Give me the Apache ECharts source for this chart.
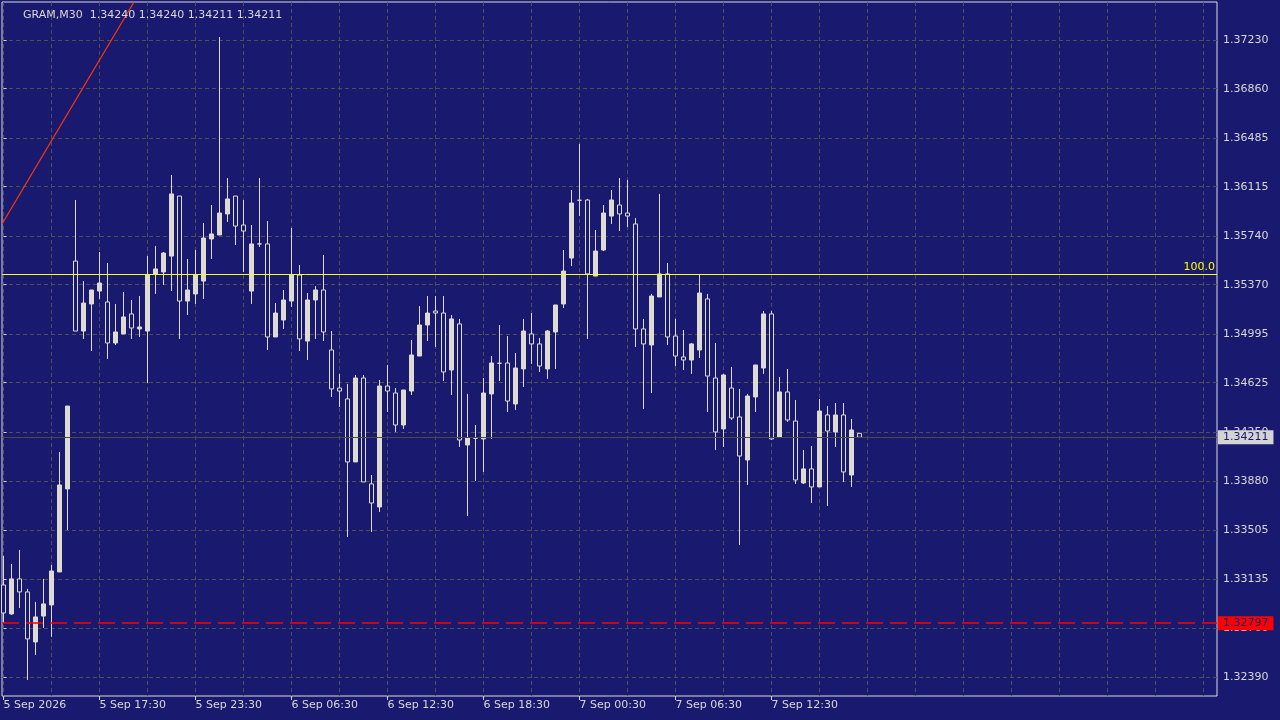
<!DOCTYPE html>
<html>
<head>
<meta charset="utf-8">
<title>GRAM,M30</title>
<script src="https://cdn.jsdelivr.net/npm/echarts@6.0.0/dist/echarts.min.js"></script>
<style>
  html, body { margin: 0; padding: 0; background: #191970; }
  #main { width: 1280px; height: 720px; }
</style>
</head>
<body>
<div id="main"></div>
<script>
/* 标题 */
var titleText = 'GRAM,M30  1.34240 1.34240 1.34211 1.34211';

/* K线数据 (M30, 从 5 Sep 11:30 开始) */
var opens = [
  1.33088, 1.32868, 1.33134, 1.33035, 1.32655, 1.32852, 1.32936, 1.33187, 1.33818, 1.35550,
  1.35018, 1.35224, 1.35322, 1.35239, 1.34927, 1.34996, 1.35148, 1.35034, 1.35018, 1.35452,
  1.35467, 1.35588, 1.36044, 1.35246, 1.35300, 1.35398, 1.35718, 1.35748, 1.35908, 1.36044,
  1.35824, 1.35322, 1.35680, 1.35680, 1.34973, 1.35102, 1.35246, 1.35444, 1.34942, 1.35254,
  1.35330, 1.34874, 1.34585, 1.34502, 1.34023, 1.34661, 1.33856, 1.33681, 1.34600, 1.34547,
  1.34304, 1.34562, 1.34828, 1.35064, 1.35170, 1.35155, 1.34722, 1.35072, 1.34152, 1.34203,
  1.34198, 1.34540, 1.34773, 1.34775, 1.34464, 1.34730, 1.34996, 1.34920, 1.34730, 1.35011,
  1.35224, 1.35573, 1.36012, 1.36014, 1.35436, 1.35634, 1.35892, 1.35976, 1.35915, 1.35832,
  1.35034, 1.34912, 1.35277, 1.35452, 1.34980, 1.34821, 1.34798, 1.34874, 1.35262, 1.34661,
  1.34274, 1.34585, 1.34365, 1.34038, 1.34517, 1.34737, 1.35148, 1.34213, 1.34555, 1.34334,
  1.33863, 1.33970, 1.33833, 1.34380, 1.34251, 1.34380, 1.33924, 1.34240
];
var closes = [
  1.32875, 1.33134, 1.33035, 1.32678, 1.32845, 1.32944, 1.33194, 1.33848, 1.34448, 1.35018,
  1.35231, 1.35330, 1.35383, 1.34927, 1.35011, 1.35125, 1.35041, 1.35049, 1.35444, 1.35490,
  1.35611, 1.36060, 1.35246, 1.35330, 1.35444, 1.35725, 1.35756, 1.35915, 1.36022, 1.35816,
  1.35778, 1.35680, 1.35680, 1.34973, 1.35155, 1.35254, 1.35444, 1.34958, 1.35254, 1.35330,
  1.35011, 1.34578, 1.34562, 1.34023, 1.34661, 1.33871, 1.33711, 1.34600, 1.34562, 1.34304,
  1.34570, 1.34836, 1.35064, 1.35155, 1.35155, 1.34707, 1.35110, 1.34190, 1.34205, 1.34203,
  1.34547, 1.34775, 1.34773, 1.34486, 1.34737, 1.35018, 1.34920, 1.34752, 1.35018, 1.35216,
  1.35474, 1.35991, 1.36012, 1.35452, 1.35626, 1.35915, 1.36014, 1.35908, 1.35892, 1.35034,
  1.34920, 1.35284, 1.35452, 1.34973, 1.34828, 1.34798, 1.34920, 1.35307, 1.34676, 1.34251,
  1.34684, 1.34357, 1.34068, 1.34524, 1.34760, 1.35148, 1.34198, 1.34555, 1.34342, 1.33886,
  1.33970, 1.33833, 1.34410, 1.34258, 1.34380, 1.33947, 1.34266, 1.34211
];
var lows = [
  1.32799, 1.32860, 1.32913, 1.32366, 1.32556, 1.32761, 1.32693, 1.33187, 1.33506, 1.35018,
  1.34958, 1.34866, 1.35262, 1.34806, 1.34912, 1.34996, 1.34958, 1.34973, 1.34623, 1.35300,
  1.35368, 1.35322, 1.34958, 1.35140, 1.35224, 1.35262, 1.35566, 1.35748, 1.35847, 1.35672,
  1.35467, 1.35224, 1.35657, 1.34874, 1.34973, 1.35034, 1.35201, 1.34866, 1.34798, 1.34958,
  1.34942, 1.34517, 1.34441, 1.33453, 1.34023, 1.33871, 1.33491, 1.33643, 1.34403, 1.34251,
  1.34274, 1.34532, 1.34828, 1.34942, 1.34897, 1.34638, 1.34532, 1.34137, 1.33612, 1.33878,
  1.33947, 1.34198, 1.34638, 1.34403, 1.34418, 1.34593, 1.34768, 1.34707, 1.34654, 1.34730,
  1.35193, 1.35512, 1.35892, 1.34958, 1.35436, 1.35626, 1.35832, 1.35778, 1.35809, 1.34897,
  1.34426, 1.34547, 1.35277, 1.34912, 1.34752, 1.34722, 1.34692, 1.34813, 1.34403, 1.34114,
  1.34137, 1.34342, 1.33392, 1.33848, 1.34403, 1.34692, 1.34190, 1.34213, 1.34327, 1.33856,
  1.33856, 1.33711, 1.33833, 1.33688, 1.34137, 1.33871, 1.33833, 1.34211
];
var highs = [
  1.33308, 1.33248, 1.33354, 1.33058, 1.32959, 1.33134, 1.33240, 1.34099, 1.34448, 1.36014,
  1.35398, 1.35330, 1.35619, 1.35535, 1.35224, 1.35315, 1.35254, 1.35284, 1.35588, 1.35664,
  1.35619, 1.36204, 1.36044, 1.35566, 1.35634, 1.35839, 1.35976, 1.37253, 1.36181, 1.36044,
  1.36014, 1.35824, 1.36181, 1.35854, 1.35231, 1.35330, 1.35801, 1.35520, 1.35307, 1.35360,
  1.35596, 1.35018, 1.34692, 1.34616, 1.34684, 1.34684, 1.33924, 1.34646, 1.34760, 1.34585,
  1.34570, 1.34950, 1.35208, 1.35284, 1.35284, 1.35284, 1.35140, 1.35110, 1.34540, 1.34304,
  1.34661, 1.34828, 1.35064, 1.34980, 1.34851, 1.35110, 1.35155, 1.34965, 1.35026, 1.35216,
  1.35634, 1.36090, 1.36440, 1.36022, 1.35786, 1.35976, 1.36090, 1.36181, 1.36166, 1.35877,
  1.35110, 1.35300, 1.36060, 1.35535, 1.35110, 1.35026, 1.34927, 1.35452, 1.35300, 1.34927,
  1.34692, 1.34745, 1.34578, 1.34540, 1.34760, 1.35170, 1.35170, 1.34669, 1.34730, 1.34494,
  1.34114, 1.34144, 1.34502, 1.34448, 1.34471, 1.34471, 1.34350, 1.34240
];

/* 时间轴标签 (每 12 根) */
var xLabelBars = [0, 12, 24, 36, 48, 60, 72, 84, 96];
var xTickLabels = ['5 Sep 2026', '5 Sep 17:30', '5 Sep 23:30', '6 Sep 06:30', '6 Sep 12:30',
  '6 Sep 18:30', '7 Sep 00:30', '7 Sep 06:30', '7 Sep 12:30'];
/* 竖向网格 (每 6 根) */
var xGridBars = [0, 6, 12, 18, 24, 30, 36, 42, 48, 54, 60, 66, 72, 78, 84, 90, 96, 102,
  108, 114, 120, 126, 132, 138, 144, 150];

/* 价格轴刻度 */
var yTickValues = [1.32390, 1.32760, 1.33135, 1.33505, 1.33880, 1.34250, 1.34625, 1.34995,
  1.35370, 1.35740, 1.36115, 1.36485, 1.36860, 1.37230];

/* 水平线 / 趋势线 */
var fiboLevel = 1.35452;
var bidPrice = 1.34211;
var stopPrice = 1.32797;
var trendLine = [[-0.2, 1.35832], [16.3, 1.37519]];

var BG = '#191970';
var CANDLE = '#dedbd3';
var GRID_LINE = '#4f4f4f';
var TEXT = '#d8d8d8';
var FONT = 'DejaVu Sans';

var chart = echarts.init(document.getElementById('main'), null, { renderer: 'canvas' });

function buildCandles() {
  var list = [];
  for (var i = 0; i < opens.length; i++) {
    list.push([i, opens[i], closes[i], lows[i], highs[i]]);
  }
  return list;
}

function priceLabel(color, bg) {
  return {
    show: true,
    position: 'end',
    distance: 1,
    formatter: function (p) { return Number(p.value).toFixed(5); },
    color: color,
    backgroundColor: bg,
    padding: [1, 5, 1, 5],
    fontSize: 11,
    lineHeight: 12,
    fontFamily: FONT
  };
}

var xMin = -0.2, xMax = 151.675;

var option = {
  backgroundColor: BG,
  animation: false,
  title: {
    text: titleText,
    left: 18,
    top: 5,
    textStyle: { color: TEXT, fontSize: 11, fontWeight: 'normal', fontFamily: FONT }
  },
  grid: {
    left: 2, right: 63, top: 2, bottom: 24,
    show: true, borderColor: '#dcdcdc', borderWidth: 1, backgroundColor: 'transparent'
  },
  xAxis: [{
    type: 'value',
    min: xMin,
    max: xMax,
    axisLine: { show: false },
    axisTick: { show: false, customValues: xGridBars },
    axisLabel: { show: false },
    splitLine: { show: true, lineStyle: { color: GRID_LINE, type: [4, 3], width: 1 } }
  }, {
    type: 'value',
    min: xMin,
    max: xMax,
    position: 'bottom',
    axisLine: { show: false },
    axisTick: { show: true, customValues: xLabelBars, length: 4, lineStyle: { color: TEXT } },
    axisLabel: {
      customValues: xLabelBars,
      formatter: function (v) { return xTickLabels[xLabelBars.indexOf(Math.round(v))] || ''; },
      align: 'left',
      margin: 4,
      color: TEXT,
      fontSize: 11,
      fontFamily: FONT
    },
    splitLine: { show: false }
  }],
  yAxis: {
    type: 'value',
    position: 'right',
    min: 1.32244,
    max: 1.37519,
    axisLine: { show: false },
    axisTick: { show: true, customValues: yTickValues, length: 3, lineStyle: { color: TEXT } },
    axisLabel: {
      customValues: yTickValues,
      formatter: function (v) { return v.toFixed(5); },
      margin: 6,
      color: TEXT,
      fontSize: 11,
      fontFamily: FONT
    },
    splitLine: { show: true, lineStyle: { color: GRID_LINE, type: [4, 3], width: 1 } }
  },
  series: [{
    type: 'candlestick',
    xAxisIndex: 0,
    data: buildCandles(),
    encode: { x: 0, y: [1, 2, 3, 4] },
    barWidth: 4,
    clip: false,
    silent: true,
    itemStyle: {
      color: CANDLE,
      color0: BG,
      borderColor: CANDLE,
      borderColor0: CANDLE,
      borderColorDoji: CANDLE,
      borderWidth: 1
    }
  }, {
    // 趋势线
    type: 'line',
    xAxisIndex: 0,
    data: trendLine,
    symbol: 'none',
    silent: true,
    lineStyle: { color: '#ff3a00', width: 1.2 }
  }, {
    // 水平线
    type: 'line',
    xAxisIndex: 0,
    data: [],
    clip: false,
    silent: true,
    markLine: {
      silent: true,
      precision: 5,
      symbol: ['none', 'none'],
      animation: false,
      data: [
        {
          yAxis: fiboLevel,
          lineStyle: { color: '#ffff00', type: 'solid', width: 1 },
          label: {
            show: true, position: 'insideEndTop', distance: [2, 1], formatter: '100.0',
            color: '#ffff00', fontSize: 11, fontFamily: FONT
          }
        },
        {
          yAxis: bidPrice,
          lineStyle: { color: '#4c4c44', type: 'solid', width: 1 },
          label: priceLabel(BG, '#d4d4d4')
        },
        {
          yAxis: stopPrice,
          lineStyle: { color: '#ff0000', type: [17, 7], width: 1.5 },
          label: priceLabel(BG, '#ff0000')
        }
      ]
    }
  }]
};

chart.setOption(option);
</script>
</body>
</html>
